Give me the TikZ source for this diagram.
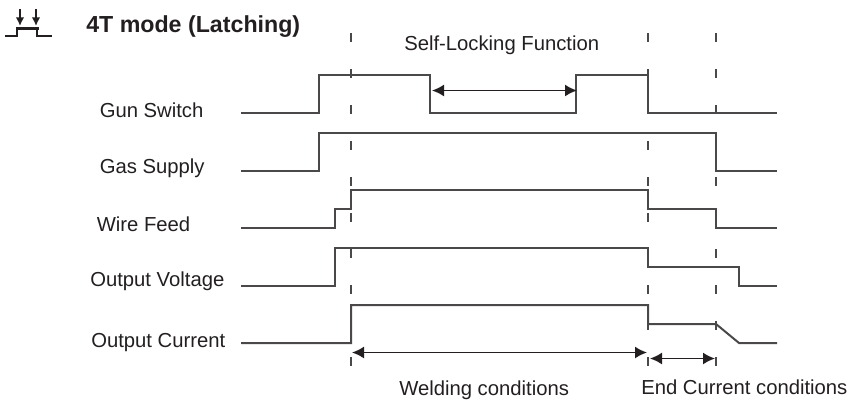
\documentclass[tikz,border=0pt]{standalone}
\usepackage{fontspec}
\setmainfont{Liberation Sans}
\usetikzlibrary{arrows.meta}
\definecolor{ink}{HTML}{231F20}
\definecolor{sig}{HTML}{4A4849}
\tikzset{
  lab/.style={anchor=base west,inner sep=0pt,text=ink,font=\fontsize{15.2}{18}\selectfont},
  ttl/.style={anchor=base west,inner sep=0pt,text=ink,font=\fontsize{17.4}{20}\selectfont\bfseries},
  signal/.style={draw=sig,line width=1.5pt,line join=miter},
  guide/.style={draw=sig,line width=0.9pt,dash pattern=on 7.1pt off 19.9pt},
  span/.style={draw=ink,line width=1.2pt,{Latex[length=9pt,width=9pt]}-{Latex[length=9pt,width=9pt]}},
  icon/.style={draw=ink,line width=1.6pt},
  iconarrow/.style={draw=ink,line width=1.4pt,-{Latex[length=6.5pt,width=6.5pt]}}
}
\begin{document}
\begin{tikzpicture}[x=0.75pt,y=-0.75pt]
\useasboundingbox (0,0) rectangle (851,404);
% guides
\foreach \n/\x in {a/351,b/648,c/716}{
  \coordinate (g\n t) at (\x,33);
  \coordinate (g\n b) at (\x,367);
  \draw[guide] (g\n t) -- (g\n b);
}
% signals
\draw[signal] (241,113) -- (318.5,113) -- (318.5,75) -- (430,75) -- (430,113) -- (575.5,113) -- (575.5,75) -- (648,75) -- (648,113) -- (777,113);
\draw[signal] (241,171) -- (318.5,171) -- (318.5,133) -- (716,133) -- (716,171) -- (777,171);
\draw[signal] (241,228) -- (335,228) -- (335,209) -- (351,209) -- (351,190) -- (648,190) -- (648,209) -- (716,209) -- (716,228) -- (777,228);
\draw[signal] (241,286) -- (335,286) -- (335,248) -- (648,248) -- (648,267) -- (739,267) -- (739,286) -- (777,286);
\draw[signal] (241,343) -- (351,343) -- (351,305) -- (648,305) -- (648,324) -- (716,324) -- (739,343) -- (777,343);
% spans
\coordinate (s1) at (432,90.5); \coordinate (s2) at (577,90.5);
\coordinate (w1) at (352,352.5); \coordinate (w2) at (647,352.5);
\coordinate (e1) at (650,358.5); \coordinate (e2) at (715,358.5);
\draw[span] (s1) -- (s2);
\draw[span] (w1) -- (w2);
\draw[span] (e1) -- (e2);
% labels
\node[ttl] (title) at (86,32) {4T mode (Latching)};
\node[lab] (gun) at (99.5,117) {Gun Switch};
\node[lab] (gas) at (99.5,173) {Gas Supply};
\node[lab] (wire) at (96.5,231) {Wire Feed};
\node[lab] (volt) at (90,286) {Output Voltage};
\node[lab] (curr) at (91,347) {Output Current};
\node[lab] (self) at (404,50) {Self-Locking Function};
\node[lab] (weld) at (399,395) {Welding conditions};
\node[lab] (endc) at (641,394) {End Current conditions};
% icon
\draw[icon] (5,36) -- (17,36) -- (17,28.5) -- (39,28.5);
\draw[icon] (37,28.5) -- (37,36) -- (52,36);
\draw[iconarrow] (20,9) -- (20,26);
\draw[iconarrow] (36,9) -- (36,26);
\end{tikzpicture}
\end{document}
